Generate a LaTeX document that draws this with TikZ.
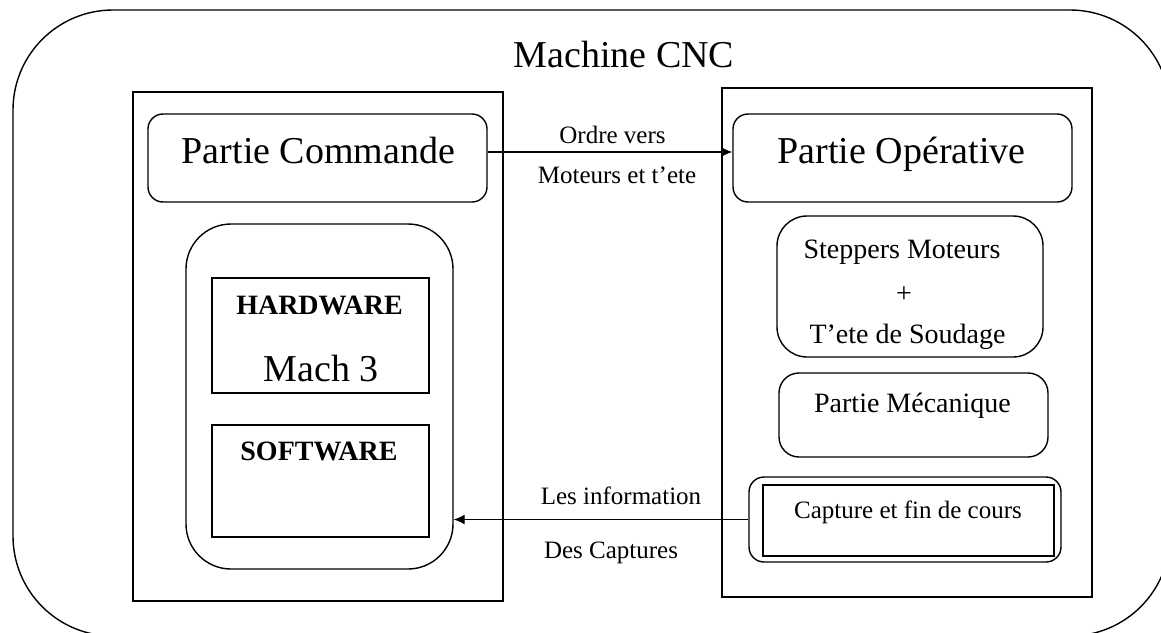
\documentclass[tikz,border=0pt]{standalone}
\usepackage{fontspec}
\setmainfont{Liberation Serif}
\usetikzlibrary{arrows.meta}

\begin{document}
\begin{tikzpicture}[x=1pt, y=-1pt, line width=1.4pt,
		box/.style={draw, inner sep=0pt},
		rbox/.style={draw, inner sep=0pt, rounded corners=15pt},
		lbl/.style={anchor=base, inner sep=0pt},
		big/.style={lbl, font=\fontsize{38}{44}\selectfont},
		mid/.style={lbl, font=\fontsize{28}{32}\selectfont},
		small/.style={lbl, font=\fontsize{25}{28}\selectfont},
		flow/.style={-{Latex[length=11pt,width=10pt]}, line width=1.2pt}]
		\useasboundingbox (0,0) rectangle (1161,632);

		% whole machine
		\node[box, rounded corners=100pt, minimum width=1157, minimum height=626] (cnc) at (591.5,323) {};
		\node[big] (cnctxt) at (624,67) {Machine CNC};

		% left part: command side
		\node[box, minimum width=370, minimum height=509] (cmd) at (318,346.5) {};
		\node[rbox, minimum width=339, minimum height=88] (pc) at (317.5,158) {};
		\node[big] (pctxt) at (318.5,163) {Partie Commande};

		\node[rbox, rounded corners=45pt, minimum width=267, minimum height=345] (pcb) at (319.5,396.5) {};
		\node[box, minimum width=217, minimum height=115] (hw) at (320.5,335.5) {};
		\node[mid] (hwtxt) at (319.5,314) {\textbf{HARDWARE}};
		\node[big] (machtxt) at (321,381) {Mach 3};
		\node[box, minimum width=217, minimum height=112] (sw) at (320.5,481) {};
		\node[mid] (swtxt) at (319,460) {\textbf{SOFTWARE}};

		% right part: operative side
		\node[box, minimum width=370, minimum height=509] (op) at (907,342.5) {};
		\node[rbox, minimum width=339, minimum height=88] (po) at (902.5,158) {};
		\node[big] (potxt) at (901.5,163) {Partie Opérative};

		\node[rbox, rounded corners=30pt, minimum width=266, minimum height=141] (mot) at (910,286.5) {};
		\node[mid] (mottxt) at (902,258) {Steppers Moteurs};
		\node[mid] (plus) at (904,302) {+};
		\node[mid] (tete) at (907.5,343) {T'ete de Soudage};

		\node[rbox, rounded corners=20pt, minimum width=269, minimum height=84] (meca) at (913.5,415) {};
		\node[mid] (mecatxt) at (912.5,412) {Partie Mécanique};

		\node[rbox, minimum width=312, minimum height=85] (capt) at (905,519.5) {};
		\node[box, minimum width=291, minimum height=71] (captin) at (908.5,520.5) {};
		\node[small] (capttxt) at (908,518) {Capture et fin de cours};

		% orders and feedback
		\draw[flow] ([yshift=6pt]pc.east) -- ([yshift=6pt]po.west);
		\node[small] (ord1) at (612.5,143) {Ordre vers};
		\node[small] (ord2) at (617,183) {Moteurs et t'ete};

		\draw[flow] (capt.west) -- (capt.west -| pcb.east);
		\node[small] (info1) at (621,504) {Les information};
		\node[small] (info2) at (611,558) {Des Captures};
	\end{tikzpicture}
\end{document}
